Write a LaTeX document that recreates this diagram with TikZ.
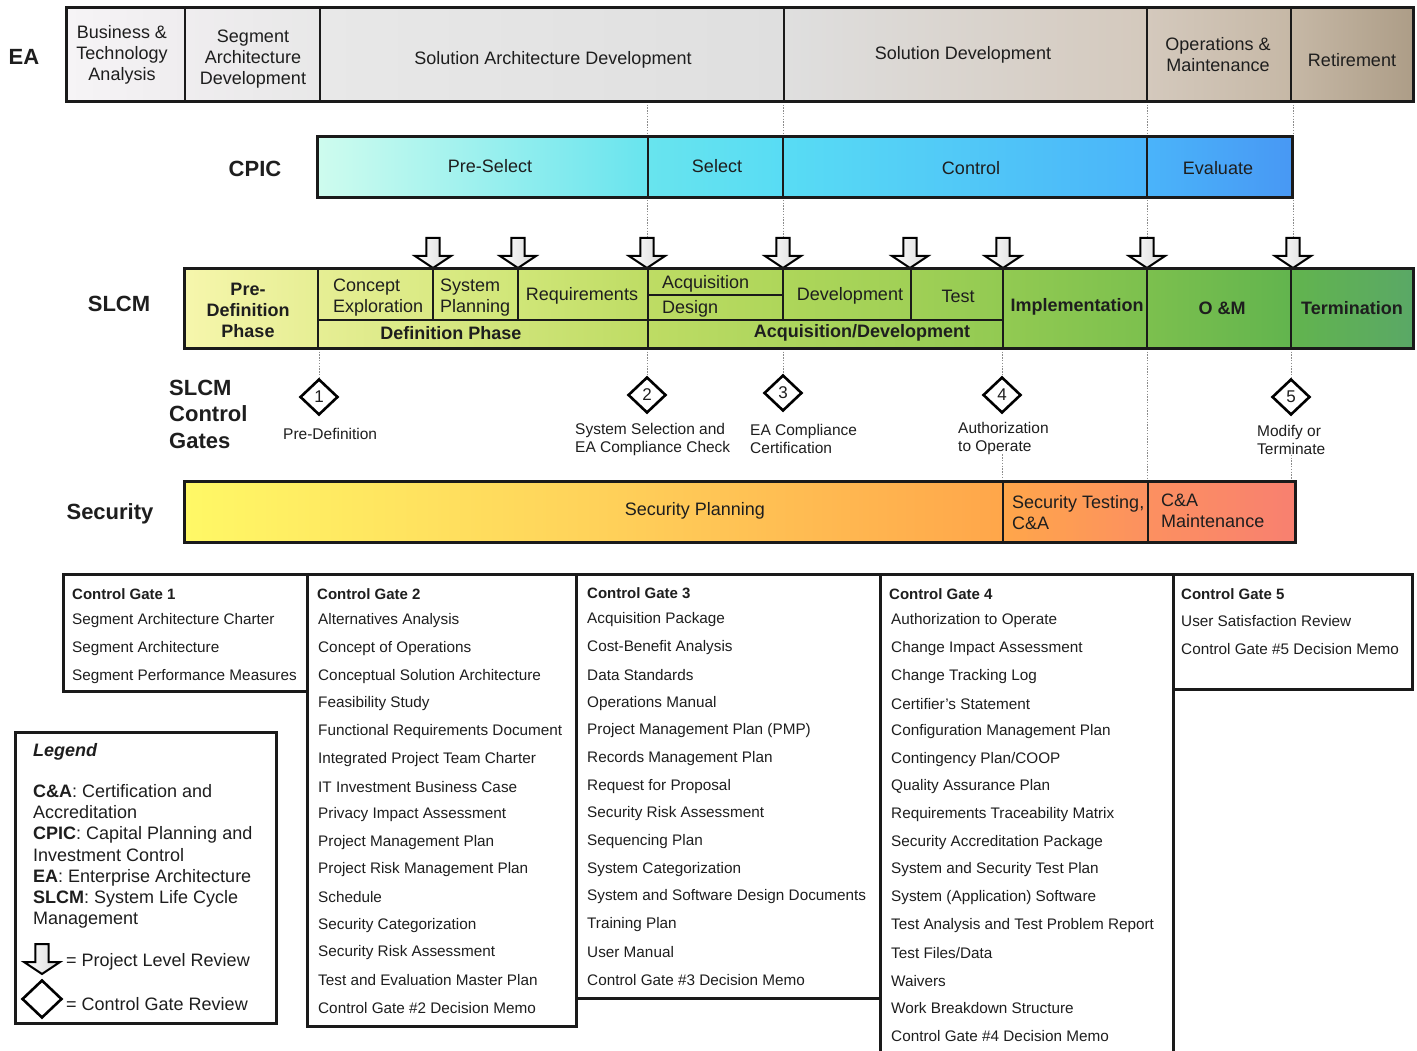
\documentclass[tikz,border=0pt]{standalone}
\usepackage{fontspec}
\setmainfont{Liberation Sans}
\usetikzlibrary{shapes.geometric,fit}
\pgfdeclarelayer{paper}
\pgfdeclarelayer{bg}
\pgfsetlayers{paper,bg,main}
\newcommand\fs[2]{\fontsize{#1}{#2}\selectfont}
\definecolor{txtc}{HTML}{1E1E1E}
\definecolor{linec}{HTML}{1A1A1A}
% EA
\definecolor{eaA}{HTML}{F6F4F6}\definecolor{eaB}{HTML}{EFEDEF}\definecolor{eaC}{HTML}{E8E8E8}
\definecolor{eaD}{HTML}{DFDFDF}\definecolor{eaE}{HTML}{D4C9BD}\definecolor{eaF}{HTML}{C6B8A6}
\definecolor{eaG}{HTML}{AD9D87}
% CPIC
\definecolor{cpA}{HTML}{CEFCEE}\definecolor{cpB}{HTML}{68E4EE}\definecolor{cpC}{HTML}{58DCF4}
\definecolor{cpD}{HTML}{4AB4FA}\definecolor{cpE}{HTML}{4898F4}
% SLCM
\definecolor{slA}{HTML}{F6F6AC}\definecolor{slB}{HTML}{E6EE94}\definecolor{slC}{HTML}{DAEA84}
\definecolor{slD}{HTML}{D0E678}\definecolor{slE}{HTML}{BEDC64}\definecolor{slF}{HTML}{AED65A}
\definecolor{slG}{HTML}{A0D056}\definecolor{slH}{HTML}{92CA52}\definecolor{slI}{HTML}{7CC04E}
\definecolor{slJ}{HTML}{62B44E}\definecolor{slK}{HTML}{5AA866}
% Security
\definecolor{scA}{HTML}{FFF866}\definecolor{scM}{HTML}{FFD25A}\definecolor{scB}{HTML}{FFA64A}
\definecolor{scC}{HTML}{FC9060}\definecolor{scD}{HTML}{F88070}
\newcommand\cell[8][cellbox]{\node[#1, left color=#7, right color=#8, fit={(#3,#4) (#5,#6)}] (#2) {};}
\tikzset{
  cellbox/.style={draw=linec, line width=1.6pt, inner sep=0pt},
  tshift/.style={yshift=-2pt},
  txt/.style={tshift, inner sep=0pt, align=center, font=\fs{18}{21}, text=txtc},
  btxt/.style={tshift, inner sep=0pt, align=center, font=\bfseries\fs{18}{21}, text=txtc},
  ltxt/.style={tshift, inner sep=0pt, align=left, anchor=west, font=\fs{18}{21}, text=txtc},
  rowlbl/.style={tshift, inner sep=0pt, font=\bfseries\fs{22}{26.5}, text=txtc},
  gatelbl/.style={tshift, inner sep=0pt, align=left, anchor=west, font=\fs{15.5}{18}, text=txtc},
  gate/.style={diamond, aspect=1, draw=black, line width=2.6pt, fill=white, minimum width=38pt, minimum height=36pt, inner sep=0pt, font=\fs{17}{17}, text=txtc},
  guide/.style={draw=black!45, line width=0.9pt, dash pattern=on 1.4pt off 1.4pt},
  listbox/.style={draw=linec, line width=3pt, inner sep=0pt},
  item/.style={tshift, anchor=west, inner sep=0pt, font=\fs{15.3}{18}, text=txtc},
  ititle/.style={tshift, anchor=west, inner sep=0pt, font=\bfseries\fs{15}{18}, text=txtc},
  revarrow/.pic={\draw[line width=2pt, draw=black, left color=white, right color=gray!30, line join=miter]
     (-6.7,0) -- (6.7,0) -- (6.7,18) -- (18,18) -- (0,30) -- (-18,18) -- (-6.7,18) -- cycle;}
}
\begin{document}
\begin{tikzpicture}[x=1pt,y=-1pt]
\useasboundingbox (0,0) rectangle (1417,1051);
\begin{pgfonlayer}{paper}
  \fill[white] (0,0) rectangle (1417,1051);
\end{pgfonlayer}

% ---------------- EA row
\cell{ea1}{67}{8}{185}{101}{eaA}{eaB}
\cell{ea2}{185}{8}{320}{101}{eaB}{eaC}
\cell{ea3}{320}{8}{784}{101}{eaC}{eaD}
\cell{ea4}{784}{8}{1147}{101}{eaD}{eaE}
\cell{ea5}{1147}{8}{1291}{101}{eaE}{eaF}
\cell{ea6}{1291}{8}{1413}{101}{eaF}{eaG}
\draw[line width=3pt, draw=linec] (ea1.north west) rectangle (ea6.south east);
\node[txt] (ea1t) at (122,53) {Business \&\\Technology\\Analysis};
\node[txt] (ea2t) at (253,57.5) {Segment\\Architecture\\Development};
\node[txt] (ea3t) at (553,58) {Solution Architecture Development};
\node[txt] (ea4t) at (963,53) {Solution Development};
\node[txt] (ea5t) at (1218,52.5) {Operations \&\\Maintenance};
\node[txt] (ea6t) at (1352,58) {Retirement};
\node[rowlbl] (eaL) at (24,55) {EA};

% ---------------- CPIC row
\cell{cp1}{318}{137}{648}{197}{cpA}{cpB}
\cell{cp2}{648}{137}{783}{197}{cpB}{cpC}
\cell{cp3}{783}{137}{1147}{197}{cpC}{cpD}
\cell{cp4}{1147}{137}{1292}{197}{cpD}{cpE}
\draw[line width=2pt, draw=linec] (cp1.north west) rectangle (cp4.south east);
\node[txt] (cp1t) at (490,164) {Pre-Select};
\node[txt] (cp2t) at (717,164) {Select};
\node[txt] (cp3t) at (971,166) {Control};
\node[txt] (cp4t) at (1218,166) {Evaluate};
\node[rowlbl] (cpL) at (255,167) {CPIC};

% ---------------- arrows (project level reviews)
\foreach \ax [count=\k] in {433,518,647,783,910,1003,1147,1293}
  \coordinate (ar\k) at (\ax,238);
\foreach \k in {1,...,8} \pic at (ar\k) {revarrow};

% ---------------- SLCM row
\cell{slpre}{185}{269}{318}{348}{slA}{slB}
\cell{concept}{318}{269}{433}{320}{slB}{slC}
\cell{sysplan}{433}{269}{518}{320}{slC}{slD}
\cell{req}{518}{269}{648}{320}{slD}{slE}
\cell{defbar}{318}{320}{648}{348}{slB}{slE}
\cell{acq}{648}{269}{783}{295}{slE}{slF}
\cell{design}{648}{295}{783}{320}{slE}{slF}
\cell{dev}{783}{269}{911}{320}{slF}{slG}
\cell{test}{911}{269}{1003}{320}{slG}{slH}
\cell{acqbar}{648}{320}{1003}{348}{slE}{slH}
\cell{impl}{1003}{269}{1147}{348}{slH}{slI}
\cell{om}{1147}{269}{1291}{348}{slI}{slJ}
\cell{term}{1291}{269}{1413}{348}{slJ}{slK}
\draw[line width=2pt, draw=linec] (slpre.north west) rectangle (term.south east);
\node[btxt] (slpret) at (248,308) {Pre-\\Definition\\Phase};
\node[ltxt] (conceptt) at (333,295.5) {Concept\\Exploration};
\node[ltxt] (sysplant) at (440,295.5) {System\\Planning};
\node[txt] (reqt) at (582,294) {Requirements};
\node[btxt] (defbart) at (451,331) {Definition Phase};
\node[ltxt] (acqt) at (662,282) {Acquisition};
\node[ltxt] (designt) at (662,307) {Design};
\node[txt] (devt) at (850,294) {Development};
\node[txt] (testt) at (958,294) {Test};
\node[btxt] (acqbart) at (862,331) {Acquisition/Development};
\node[btxt] (implt) at (1077,305) {Implementation};
\node[btxt] (omt) at (1222,306) {O \&M};
\node[btxt] (termt) at (1352,306) {Termination};
\node[rowlbl] (slL) at (119,302) {SLCM};

% ---------------- Control gates
\node[rowlbl, align=left, anchor=west] (gL) at (169,412) {SLCM\\Control\\Gates};
\node[gate] (g1) at (319,397) {1};
\node[gate] (g2) at (647,395) {2};
\node[gate] (g3) at (783,393) {3};
\node[gate] (g4) at (1002,395) {4};
\node[gate] (g5) at (1291,397) {5};
\node[gatelbl] (g1l) at (283,432) {Pre-Definition};
\node[gatelbl] (g2l) at (575,437) {System Selection and\\EA Compliance Check};
\node[gatelbl] (g3l) at (750,437) {EA Compliance\\Certification};
\node[gatelbl] (g4l) at (958,436) {Authorization\\to Operate};
\node[gatelbl] (g5l) at (1257,438) {Modify or\\Terminate};

% ---------------- Security row
\cell{sec1}{185}{482}{1003}{542}{scA}{scB}
\cell{sec2}{1003}{482}{1148}{542}{scB}{scC}
\cell{sec3}{1148}{482}{1295}{542}{scC}{scD}
\node[cellbox, left color=scA, right color=scB, middle color=scM, fit={(185,482) (1003,542)}] (sec1m) {};
\draw[line width=1.6pt, draw=linec] (sec1.north west) rectangle (sec3.south east);
\node[txt] (sec1t) at (695,509) {Security Planning};
\node[ltxt] (sec2t) at (1012,510.5) {Security Testing,\\C\&A};
\node[ltxt] (sec3t) at (1161,509) {C\&A\\Maintenance};
\node[rowlbl] (secL) at (110,512) {Security};

% ---------------- guide lines (behind)
\begin{pgfonlayer}{bg}
  \draw[guide] (ea3.south -| ar3) -- (ar3);
  \draw[guide] (ea3.south -| ar4) -- (ar4);
  \draw[guide] (ea3.south -| ar7) -- (ar7);
  \draw[guide] (ea3.south -| ar8) -- (ar8);
  \draw[guide] (g1.north |- slpre.south) -- (g1.north);
  \draw[guide] (g2.north |- defbar.south) -- (g2.north);
  \draw[guide] (g3.north |- acqbar.south) -- (g3.north);
  \draw[guide] (g4.north |- impl.south) -- (g4.north);
  \draw[guide] (g4 |- g4l.south) -- (g4 |- sec1.north);
  \draw[guide] (sec3.north west |- om.south) -- (sec3.north west);
  \draw[guide] (g5.north |- term.south) -- (g5.north);
  \draw[guide] (g5 |- g5l.south) -- (g5 |- sec3.north);
\end{pgfonlayer}

% ---------------- Control gate lists
\node[listbox, fit={(63,574) (307,691)}] (b1) {};
\node[listbox, fit={(307,574) (576,1026)}] (b2) {};
\node[listbox, fit={(576,574) (880,998)}] (b3) {};
\node[listbox, fit={(880,574) (1173,1085)}] (b4) {};
\node[listbox, fit={(1173,574) (1412,689)}] (b5) {};

\node[ititle] (b1h) at (72,592) {Control Gate 1};
\foreach \t [count=\i] in {Segment Architecture Charter,Segment Architecture,Segment Performance Measures}
  \node[item] (b1i\i) at (72,{619+(\i-1)*28}) {\t};

\node[ititle] (b2h) at (317,592) {Control Gate 2};
\foreach \t [count=\i] in {Alternatives Analysis,Concept of Operations,Conceptual Solution Architecture,Feasibility Study,Functional Requirements Document,Integrated Project Team Charter,IT Investment Business Case,Privacy Impact Assessment,Project Management Plan,Project Risk Management Plan,Schedule,Security Categorization,Security Risk Assessment,Test and Evaluation Master Plan,Control Gate \#2 Decision Memo}
  \node[item] (b2i\i) at (318,{619+(\i-1)*27.65}) {\t};

\node[ititle] (b3h) at (587,591) {Control Gate 3};
\foreach \t [count=\i] in {Acquisition Package,Cost-Benefit Analysis,Data Standards,Operations Manual,Project Management Plan (PMP),Records Management Plan,Request for Proposal,Security Risk Assessment,Sequencing Plan,System Categorization,System and Software Design Documents,Training Plan,User Manual,Control Gate \#3 Decision Memo}
  \node[item] (b3i\i) at (587,{618+(\i-1)*27.7}) {\t};

\node[ititle] (b4h) at (889,592) {Control Gate 4};
\foreach \t [count=\i] in {Authorization to Operate,Change Impact Assessment,Change Tracking Log,Certifier’s Statement,Configuration Management Plan,Contingency Plan/COOP,Quality Assurance Plan,Requirements Traceability Matrix,Security Accreditation Package,System and Security Test Plan,System (Application) Software,Test Analysis and Test Problem Report,Test Files/Data,Waivers,Work Breakdown Structure,Control Gate \#4 Decision Memo}
  \node[item] (b4i\i) at (891,{619+(\i-1)*27.67}) {\t};

\node[ititle] (b5h) at (1181,592) {Control Gate 5};
\foreach \t [count=\i] in {User Satisfaction Review,Control Gate \#5 Decision Memo}
  \node[item] (b5i\i) at (1181,{619+(\i-1)*28}) {\t};

% ---------------- Legend
\node[listbox, fit={(15,732) (276,1023)}] (legend) {};
\node[tshift, anchor=west, inner sep=0pt, font=\bfseries\itshape\fs{18}{21}, text=txtc] (lgT) at (33,750) {Legend};
\node[ltxt, font=\fs{18}{21.2}] (lgB) at (33,854.5) {\textbf{C\&A}: Certification and\\Accreditation\\\textbf{CPIC}: Capital Planning and\\Investment Control\\\textbf{EA}: Enterprise Architecture\\\textbf{SLCM}: System Life Cycle\\Management};
\coordinate (lgAr) at (42,944);
\pic at (lgAr) {revarrow};
\node[gate, minimum width=40pt, minimum height=38pt] (lgD) at (42,999) {};
\node[ltxt] (lgA) at (66,960) {= Project Level Review};
\node[ltxt] (lgC) at (66,1002) {= Control Gate Review};
\end{tikzpicture}
\end{document}
